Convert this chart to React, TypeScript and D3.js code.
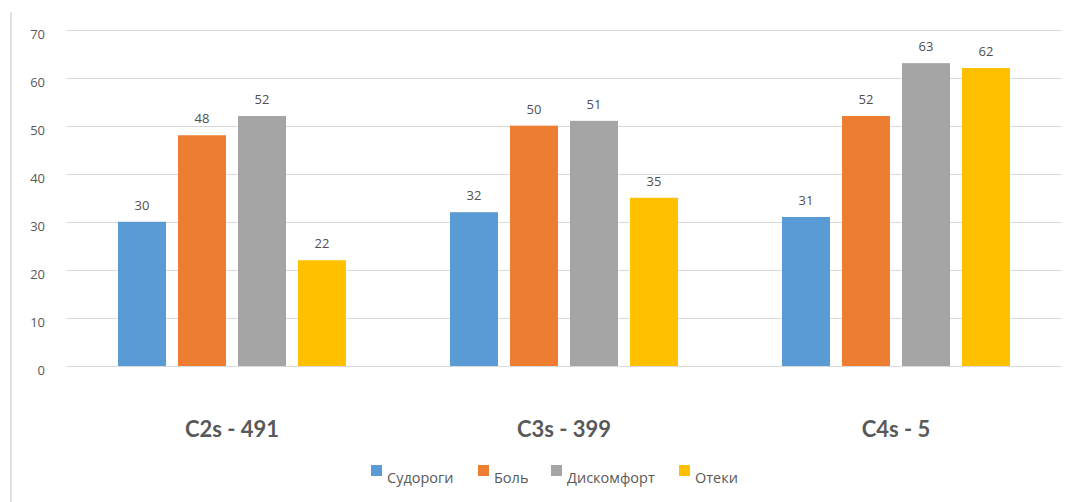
import React from "react";
import * as d3 from "d3";

const categories = ["C2s - 491", "C3s - 399", "C4s - 5"];
const seriesNames = ["Судороги", "Боль", "Дискомфорт", "Отеки"];
const seriesColors = ["#5b9bd5", "#ed7d31", "#a5a5a5", "#ffc000"];
const values = [
  [30, 32, 31],
  [48, 50, 52],
  [52, 51, 63],
  [22, 35, 62],
];
const yTicks = [0, 10, 20, 30, 40, 50, 60, 70];

export default function App() {
  const W = 1083, H = 502;
  const x0 = d3.scaleBand<string>().domain(categories).range([66, 1062]).paddingInner(0).paddingOuter(0);
  const y = d3.scaleLinear().domain([0, 70]).range([366, 29.5]);
  const groupW = 228;
  const x1 = d3.scaleBand<string>().domain(seriesNames).range([0, groupW]).paddingInner(0.2).paddingOuter(0);
  const bw = x1.bandwidth();
  const legendX = [371, 478, 551, 679];
  return (
    <svg width={W} height={H} style={{ position: "absolute", left: 0, top: 0, background: "#fff" }}>
      <rect x={0} y={0} width={W} height={H} fill="#fff" />
      <line x1={11} x2={11} y1={12} y2={H} stroke="#d9d9d9" strokeWidth={1.5} />
      {yTicks.map((t) => (
        <g key={t}>
          <line x1={66} x2={1062} y1={Math.round(y(t)) + 0.5} y2={Math.round(y(t)) + 0.5} stroke="#d9d9d9" strokeWidth={1} />
          <text x={45} y={y(t) + 9} textAnchor="end" fontFamily="Open Sans, sans-serif" fontSize={13} fill="#595959">{t}</text>
        </g>
      ))}
      {categories.map((c, ci) => {
        const gx = (x0(c) as number) + (x0.bandwidth() - groupW) / 2;
        return (
          <g key={c}>
            {seriesNames.map((s, si) => {
              const v = values[si][ci];
              const bx = gx + (x1(s) as number);
              return (
                <g key={s}>
                  <rect x={bx} y={y(v)} width={bw} height={y(0) - y(v)} fill={seriesColors[si]} />
                  <text x={bx + bw / 2} y={y(v) - 12} textAnchor="middle" fontFamily="Open Sans, sans-serif" fontSize={13} fill="#505050">{v}</text>
                </g>
              );
            })}
            <text x={(x0(c) as number) + x0.bandwidth() / 2} y={437} textAnchor="middle" fontFamily="Lato, sans-serif" fontWeight="bold" fontSize={22} fill="#595959">{c}</text>
          </g>
        );
      })}
      {seriesNames.map((s, si) => (
        <g key={s}>
          <rect x={legendX[si]} y={465} width={11} height={11} fill={seriesColors[si]} />
          <text x={legendX[si] + 16} y={483} fontFamily="Open Sans, sans-serif" fontSize={14.5} fill="#595959">{s}</text>
        </g>
      ))}
    </svg>
  );
}
